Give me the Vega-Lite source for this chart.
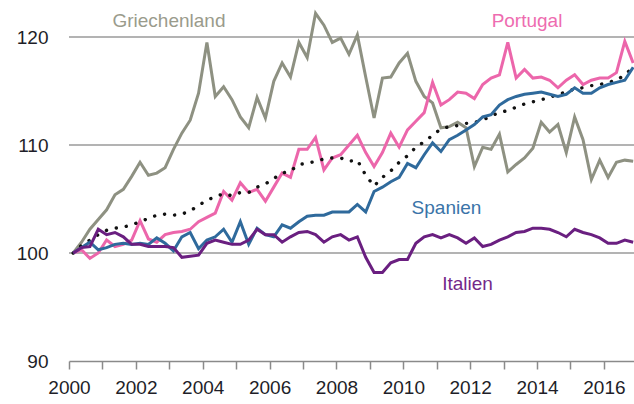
{
  "$schema": "https://vega.github.io/schema/vega-lite/v6.json",
  "width": 565,
  "height": 361,
  "autosize": {"type": "none"},
  "padding": {"left": 69, "top": 0, "right": 0, "bottom": 43},
  "background": "white",
  "config": {"view": {"stroke": null}, "font": "Liberation Sans"},
  "data": {"values": [
    {"t":2000.125,"gr":100,"pt":100,"es":100,"it":100,"ea":100},
    {"t":2000.375,"gr":101.0,"pt":100.3,"es":100.5,"it":100.5,"ea":100.7},
    {"t":2000.625,"gr":102.2,"pt":99.5,"es":101.0,"it":100.6,"ea":101.2},
    {"t":2000.875,"gr":103.1,"pt":100.0,"es":100.3,"it":102.2,"ea":101.7},
    {"t":2001.125,"gr":104.0,"pt":101.2,"es":100.5,"it":101.7,"ea":102.1},
    {"t":2001.375,"gr":105.4,"pt":100.6,"es":100.8,"it":101.9,"ea":102.3},
    {"t":2001.625,"gr":105.9,"pt":100.8,"es":100.9,"it":101.5,"ea":102.4},
    {"t":2001.875,"gr":107.1,"pt":101.2,"es":100.8,"it":100.8,"ea":102.6},
    {"t":2002.125,"gr":108.4,"pt":103.0,"es":100.9,"it":100.8,"ea":102.9},
    {"t":2002.375,"gr":107.2,"pt":101.3,"es":100.8,"it":100.6,"ea":103.2},
    {"t":2002.625,"gr":107.4,"pt":101.0,"es":101.4,"it":100.6,"ea":103.5},
    {"t":2002.875,"gr":107.9,"pt":101.7,"es":100.9,"it":100.6,"ea":103.6},
    {"t":2003.125,"gr":109.6,"pt":101.9,"es":100.2,"it":100.5,"ea":103.5},
    {"t":2003.375,"gr":111.1,"pt":102.0,"es":101.5,"it":99.6,"ea":103.6},
    {"t":2003.625,"gr":112.3,"pt":102.2,"es":101.9,"it":99.7,"ea":103.9},
    {"t":2003.875,"gr":114.8,"pt":102.9,"es":100.4,"it":99.8,"ea":104.4},
    {"t":2004.125,"gr":119.5,"pt":103.3,"es":101.2,"it":100.9,"ea":104.9},
    {"t":2004.375,"gr":114.5,"pt":103.7,"es":101.5,"it":101.2,"ea":105.2},
    {"t":2004.625,"gr":115.4,"pt":105.7,"es":102.2,"it":101.0,"ea":105.5},
    {"t":2004.875,"gr":114.2,"pt":104.9,"es":101.0,"it":100.8,"ea":105.3},
    {"t":2005.125,"gr":112.6,"pt":106.5,"es":102.9,"it":100.8,"ea":105.6},
    {"t":2005.375,"gr":111.6,"pt":105.6,"es":100.8,"it":101.2,"ea":105.6},
    {"t":2005.625,"gr":114.4,"pt":105.9,"es":102.3,"it":102.2,"ea":106.1},
    {"t":2005.875,"gr":112.5,"pt":104.8,"es":101.7,"it":101.7,"ea":106.4},
    {"t":2006.125,"gr":115.9,"pt":106.1,"es":101.5,"it":101.7,"ea":106.9},
    {"t":2006.375,"gr":117.6,"pt":107.4,"es":102.6,"it":101.0,"ea":107.4},
    {"t":2006.625,"gr":116.3,"pt":107.0,"es":102.3,"it":101.5,"ea":107.6},
    {"t":2006.875,"gr":119.5,"pt":109.6,"es":102.9,"it":101.9,"ea":108.2},
    {"t":2007.125,"gr":118.1,"pt":109.6,"es":103.4,"it":102.0,"ea":108.3},
    {"t":2007.375,"gr":122.2,"pt":110.7,"es":103.5,"it":101.7,"ea":108.5},
    {"t":2007.625,"gr":121.1,"pt":107.7,"es":103.5,"it":101.0,"ea":108.7},
    {"t":2007.875,"gr":119.5,"pt":108.8,"es":103.8,"it":101.5,"ea":108.8},
    {"t":2008.125,"gr":119.9,"pt":109.1,"es":103.8,"it":101.7,"ea":108.8},
    {"t":2008.375,"gr":118.4,"pt":110.0,"es":103.8,"it":101.2,"ea":108.5},
    {"t":2008.625,"gr":120.2,"pt":110.9,"es":104.5,"it":101.5,"ea":108.6},
    {"t":2008.875,"gr":116.3,"pt":109.3,"es":103.8,"it":99.6,"ea":107.2},
    {"t":2009.125,"gr":112.5,"pt":108.0,"es":105.7,"it":98.2,"ea":106.2},
    {"t":2009.375,"gr":116.2,"pt":109.3,"es":106.1,"it":98.2,"ea":107.0},
    {"t":2009.625,"gr":116.3,"pt":111.1,"es":106.6,"it":99.1,"ea":107.6},
    {"t":2009.875,"gr":117.6,"pt":109.8,"es":107.0,"it":99.4,"ea":108.4},
    {"t":2010.125,"gr":118.5,"pt":111.4,"es":108.3,"it":99.4,"ea":109.0},
    {"t":2010.375,"gr":115.9,"pt":112.2,"es":107.9,"it":100.9,"ea":109.8},
    {"t":2010.625,"gr":114.5,"pt":113.0,"es":109.1,"it":101.5,"ea":110.3},
    {"t":2010.875,"gr":113.9,"pt":115.8,"es":110.2,"it":101.7,"ea":110.9},
    {"t":2011.125,"gr":111.6,"pt":113.7,"es":109.4,"it":101.4,"ea":111.5},
    {"t":2011.375,"gr":111.7,"pt":114.2,"es":110.5,"it":101.7,"ea":111.7},
    {"t":2011.625,"gr":112.1,"pt":114.9,"es":110.9,"it":101.4,"ea":111.8},
    {"t":2011.875,"gr":111.6,"pt":114.8,"es":111.4,"it":100.9,"ea":112.0},
    {"t":2012.125,"gr":108.0,"pt":114.3,"es":111.9,"it":101.4,"ea":112.1},
    {"t":2012.375,"gr":109.8,"pt":115.6,"es":112.6,"it":100.6,"ea":112.3},
    {"t":2012.625,"gr":109.6,"pt":116.2,"es":112.8,"it":100.8,"ea":112.7},
    {"t":2012.875,"gr":111.0,"pt":116.5,"es":113.7,"it":101.2,"ea":113.0},
    {"t":2013.125,"gr":107.5,"pt":119.5,"es":114.2,"it":101.5,"ea":113.2},
    {"t":2013.375,"gr":108.2,"pt":116.2,"es":114.5,"it":101.9,"ea":113.5},
    {"t":2013.625,"gr":108.8,"pt":117.0,"es":114.7,"it":102.0,"ea":113.8},
    {"t":2013.875,"gr":109.7,"pt":116.2,"es":114.8,"it":102.3,"ea":114.0},
    {"t":2014.125,"gr":112.1,"pt":116.3,"es":114.9,"it":102.3,"ea":114.2},
    {"t":2014.375,"gr":111.2,"pt":116.0,"es":114.7,"it":102.2,"ea":114.4},
    {"t":2014.625,"gr":111.9,"pt":115.3,"es":114.5,"it":101.9,"ea":114.7},
    {"t":2014.875,"gr":109.3,"pt":116.0,"es":114.7,"it":101.5,"ea":114.9},
    {"t":2015.125,"gr":112.6,"pt":116.5,"es":115.3,"it":102.2,"ea":115.2},
    {"t":2015.375,"gr":110.5,"pt":115.6,"es":114.8,"it":101.9,"ea":115.3},
    {"t":2015.625,"gr":106.8,"pt":116.0,"es":114.8,"it":101.7,"ea":115.5},
    {"t":2015.875,"gr":108.6,"pt":116.2,"es":115.3,"it":101.4,"ea":115.6},
    {"t":2016.125,"gr":107.0,"pt":116.2,"es":115.6,"it":100.9,"ea":115.8},
    {"t":2016.375,"gr":108.4,"pt":116.7,"es":115.8,"it":100.9,"ea":116.0},
    {"t":2016.625,"gr":108.6,"pt":119.6,"es":116.0,"it":101.2,"ea":116.5},
    {"t":2016.875,"gr":108.5,"pt":117.6,"es":117.2,"it":101.0,"ea":117.2}
  ]},
  "encoding": {
    "x": {
      "field": "t", "type": "quantitative",
      "scale": {"domain": [2000, 2016.9], "nice": false, "zero": false},
      "axis": {
        "title": null, "grid": false,
        "values": [2000,2001,2002,2003,2004,2005,2006,2007,2008,2009,2010,2011,2012,2013,2014,2015,2016],
        "labelExpr": "datum.value % 2 == 0 ? format(datum.value, 'd') : ''",
        "domainColor": "#8a8a8a", "domainWidth": 1.5,
        "tickColor": "#8a8a8a", "tickSize": 8, "tickWidth": 1.5,
        "labelFontSize": 19, "labelColor": "#1e1e28", "labelPadding": 9,
        "labelFont": "Liberation Sans", "labelFlush": false, "labelOverlap": false
      }
    }
  },
  "layer": [
    {
      "mark": {"type": "rule", "color": "#9a9a9a", "strokeWidth": 1.5},
      "data": {"values": [{"g": 100}, {"g": 110}, {"g": 120}]},
      "encoding": {
        "x": null,
        "y": {"field": "g", "type": "quantitative",
          "scale": {"domain": [90, 123.43], "nice": false, "zero": false},
          "axis": {
            "title": null, "values": [90, 100, 110, 120], "grid": false,
            "domain": false, "ticks": false, "labelPadding": 21,
            "labelFontSize": 19, "labelColor": "#1e1e28", "labelFont": "Liberation Sans"
          }}
      }
    },
    {
      "mark": {"type": "line", "color": "#8e9182", "strokeWidth": 3},
      "encoding": {"y": {"field": "gr", "type": "quantitative"}}
    },
    {
      "mark": {"type": "line", "color": "#ec66ab", "strokeWidth": 3},
      "encoding": {"y": {"field": "pt", "type": "quantitative"}}
    },
    {
      "mark": {"type": "line", "color": "#111111", "strokeWidth": 3.4, "strokeDash": [0.1, 10], "strokeCap": "round"},
      "encoding": {"y": {"field": "ea", "type": "quantitative"}}
    },
    {
      "mark": {"type": "line", "color": "#2f6a9c", "strokeWidth": 3},
      "encoding": {"y": {"field": "es", "type": "quantitative"}}
    },
    {
      "mark": {"type": "line", "color": "#6a1f80", "strokeWidth": 3},
      "encoding": {"y": {"field": "it", "type": "quantitative"}}
    },
    {
      "data": {"values": [
        {"t": 2002.99, "v": 120.95, "label": "Griechenland"},
        {"t": 2013.70, "v": 120.95, "label": "Portugal"},
        {"t": 2011.29, "v": 103.6, "label": "Spanien"},
        {"t": 2011.92, "v": 96.6, "label": "Italien"}
      ]},
      "mark": {"type": "text", "fontSize": 19, "font": "Liberation Sans", "align": "center", "baseline": "alphabetic"},
      "encoding": {
        "x": {"field": "t", "type": "quantitative"},
        "y": {"field": "v", "type": "quantitative"},
        "text": {"field": "label"},
        "color": {"field": "label", "type": "nominal", "legend": null,
          "scale": {"domain": ["Griechenland", "Portugal", "Spanien", "Italien"],
                    "range": ["#9a9b8c", "#ee6cb0", "#3a74a8", "#74288a"]}}
      }
    }
  ]
}
